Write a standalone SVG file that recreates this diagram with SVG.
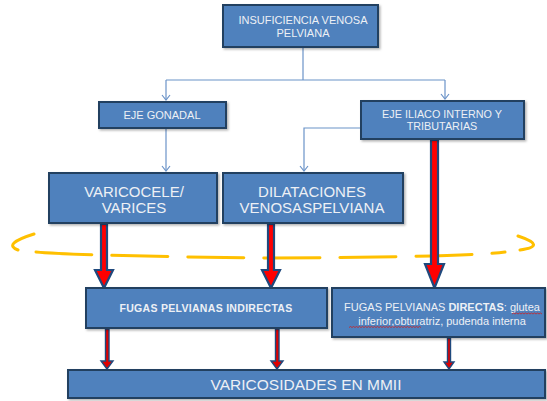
<svg xmlns="http://www.w3.org/2000/svg" width="547" height="401" viewBox="0 0 547 401">
<style>
.box{fill:#4F81BD;stroke:#243F60;stroke-width:2;filter:url(#sh)}
.t{font-family:"Liberation Sans",Arial,sans-serif;fill:#EDF0F5;text-anchor:middle}
.conn{fill:none;stroke:#6B93C8;stroke-width:1.2}
.big{fill:#FF0000;stroke:#1F497D;stroke-width:2.2;stroke-linejoin:miter}
.small{fill:#E00000;stroke:#1F497D;stroke-width:1.4}
.wavy{fill:none;stroke:#D02020;stroke-width:0.8}
</style>
<defs>
<filter id="sh" x="-10%" y="-10%" width="120%" height="130%">
<feDropShadow dx="1.5" dy="1.5" stdDeviation="1" flood-color="#000" flood-opacity="0.3"/>
</filter>
<marker id="v" markerWidth="10" markerHeight="10" refX="8" refY="5" orient="auto" markerUnits="userSpaceOnUse">
<path d="M3,1 L8,5 L3,9" fill="none" stroke="#6B93C8" stroke-width="1.2"/>
</marker>
</defs>

<path d="M34,234 Q2,244 18,250 M36,252 Q80,256 271,258 Q470,257 505,252 M518,236 Q548,246 520,250" fill="none" stroke="#FFC000" stroke-width="3" stroke-dasharray="56,20" stroke-linecap="round"/>

<g id="connectors">
<path class="conn" d="M303,47 V80"/>
<path class="conn" d="M166,80 H445"/>
<path class="conn" d="M166,80 V100" marker-end="url(#v)"/>
<path class="conn" d="M445,80 V99" marker-end="url(#v)"/>
<path class="conn" d="M166,129 V171" marker-end="url(#v)"/>
<path class="conn" d="M361,128 H304 V171" marker-end="url(#v)"/>
<polygon class="big" points="101,224 107,224 107,270 113,270 104,288 95,270 101,270"/>
<polygon class="big" points="268,224 274,224 274,270 280,270 271,288 262,270 268,270"/>
<polygon class="big" points="431,140 438,140 438,264 444,264 434.5,288 425,264 431,264"/>
<polygon class="small" points="105.5,329 109,329 109,361 113,361 107,369 101,361 105.5,361"/>
<polygon class="small" points="275.5,329 279,329 279,361 283,361 277,369 271,361 275.5,361"/>
<polygon class="small" points="447.5,338 450.5,338 450.5,362 454,362 449,369 444,362 447.5,362"/>
</g>

<g id="n-insuf">
<rect class="box" x="223" y="5" width="155" height="42"/>
<text class="t" font-size="11" x="303" y="24">INSUFICIENCIA VENOSA</text>
<text class="t" font-size="11" x="303" y="37">PELVIANA</text>
</g>
<g id="n-gonadal">
<rect class="box" x="99" y="102" width="127" height="26"/>
<text class="t" font-size="11" x="162" y="119">EJE GONADAL</text>
</g>
<g id="n-iliaco">
<rect class="box" x="361" y="101" width="163" height="38"/>
<text class="t" font-size="10.8" x="442" y="118">EJE ILIACO INTERNO  Y</text>
<text class="t" font-size="10.8" x="442" y="130">TRIBUTARIAS</text>
</g>
<g id="n-varicocele">
<rect class="box" x="49" y="173" width="168" height="50"/>
<text class="t" font-size="15" x="134" y="196.5">VARICOCELE/</text>
<text class="t" font-size="15" x="134" y="212.5">VARICES</text>
</g>
<g id="n-dilataciones">
<rect class="box" x="223" y="173" width="180" height="50"/>
<text class="t" font-size="15" x="312" y="196.5">DILATACIONES</text>
<text class="t" font-size="15" x="312" y="212.5">VENOSASPELVIANA</text>
</g>
<g id="n-indirectas">
<rect class="box" x="86" y="288" width="241" height="40"/>
<text class="t" font-size="10.5" font-weight="bold" letter-spacing="0.3" x="206" y="312">FUGAS PELVIANAS INDIRECTAS</text>
</g>
<g id="n-directas">
<rect class="box" x="332" y="288" width="213" height="49"/>
<text class="t" font-size="11" x="442" y="311">FUGAS PELVIANAS <tspan font-weight="bold">DIRECTAS</tspan>: glutea</text>
<text class="t" font-size="11" x="442" y="324.5">inferior,obturatriz, pudenda interna</text>
<path class="wavy" d="M512,314 l1.5,-1 l1.5,1 l1.5,-1 l1.5,1 l1.5,-1 l1.5,1 l1.5,-1 l1.5,1 l1.5,-1 l1.5,1 l1.5,-1 l1.5,1 l1.5,-1 l1.5,1 l1.5,-1 l1.5,1 l1.5,-1 l1.5,1 l1.5,-1 l1.5,1"/>
<path class="wavy" d="M349,327.5 l1.5,-1 l1.5,1 l1.5,-1 l1.5,1 l1.5,-1 l1.5,1 l1.5,-1 l1.5,1 l1.5,-1 l1.5,1 l1.5,-1 l1.5,1 l1.5,-1 l1.5,1 l1.5,-1 l1.5,1 l1.5,-1 l1.5,1 l1.5,-1 l1.5,1 l1.5,-1 l1.5,1 l1.5,-1 l1.5,1 l1.5,-1 l1.5,1 l1.5,-1 l1.5,1 l1.5,-1 l1.5,1 l1.5,-1 l1.5,1 l1.5,-1 l1.5,1 l1.5,-1 l1.5,1 l1.5,-1 l1.5,1 l1.5,-1 l1.5,1 l1.5,-1 l1.5,1 l1.5,-1 l1.5,1 l1.5,-1 l1.5,1 l1.5,-1 l1.5,1"/>
</g>
<g id="n-varicosidades">
<rect class="box" x="68" y="370" width="477" height="28"/>
<text class="t" font-size="15.5" x="306" y="389.5">VARICOSIDADES EN MMII</text>
</g>
</svg>
